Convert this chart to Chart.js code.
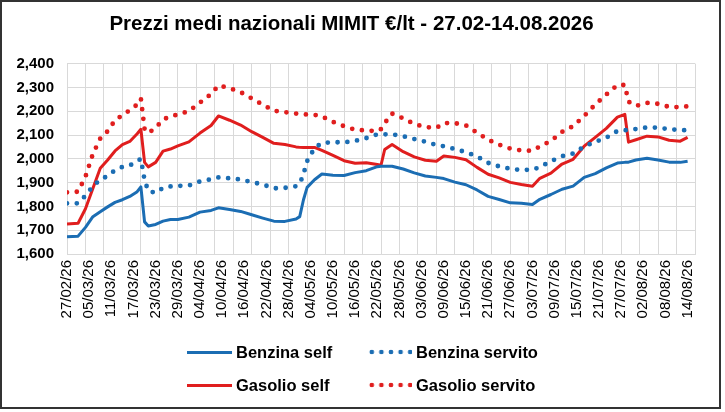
<!DOCTYPE html>
<html lang="it">
<head>
  <meta charset="UTF-8">
  <title>Prezzi medi nazionali MIMIT</title>
  <script src="https://cdn.jsdelivr.net/npm/chart.js"></script>
  <style>
    body { margin: 0; background: #fff; font-family: "Liberation Sans", Arial, sans-serif; }
    #box { position: absolute; left: 0; top: 0; width: 721px; height: 409px; border: 2px solid #333; box-sizing: border-box; background: #fff; }
    #wrap { position: absolute; left: 0; top: 0; width: 717px; height: 405px; }
    .leg { position: absolute; display: flex; align-items: center; font-weight: bold; font-size: 16.5px; color: #000; white-space: nowrap; }
    .leg .smp { width: 45px; margin-right: 4px; }
  </style>
</head>
<body>
  <div id="box">
    <div id="wrap"><canvas id="grafico"></canvas></div>
  </div>

  <script>
    // giorni dal 27/02/26 (0) al 14/08/26 (168)
    const giorni = [0, 3, 5, 7, 9, 11, 13, 15, 17, 19,
      20, 21, 22, 24, 26, 28, 30, 33, 36, 39,
      41, 44, 47, 50, 53, 56, 59, 62, 63, 64,
      65, 67, 69, 72, 75, 78, 81, 84, 85, 86,
      88, 91, 94, 97, 100, 102, 105, 108, 111, 114,
      117, 120, 123, 126, 128, 131, 134, 137, 140, 143,
      146, 149, 151, 152, 154, 157, 160, 163, 166, 168];

    const benzinaSelf = [1672, 1675, 1712, 1757, 1778, 1798, 1817, 1828, 1842, 1862,
      1882, 1735, 1718, 1724, 1738, 1745, 1745, 1755, 1776, 1783,
      1794, 1787, 1779, 1765, 1751, 1738, 1737, 1747, 1757, 1827,
      1880, 1912, 1936, 1931, 1930, 1942, 1950, 1967, 1969, 1969,
      1969, 1957, 1941, 1928, 1922, 1917, 1902, 1891, 1869, 1842,
      1829, 1815, 1813, 1808, 1830, 1850, 1872, 1885, 1922, 1938,
      1962, 1982, 1985, 1986, 1995, 2002, 1995, 1986, 1985, 1990];

    const benzinaServito = [1813, 1813, 1845, 1885, 1912, 1928, 1952, 1966, 1972, 1990,
      2000, 1910, 1865, 1857, 1878, 1884, 1886, 1888, 1905, 1914,
      1922, 1918, 1913, 1902, 1892, 1876, 1878, 1885, 1895, 1935,
      1990, 2045, 2066, 2070, 2069, 2075, 2087, 2103, 2103, 2103,
      2103, 2095, 2083, 2072, 2058, 2053, 2041, 2028, 2010, 1983,
      1968, 1958, 1953, 1954, 1965, 1990, 2011, 2022, 2052, 2071,
      2089, 2117, 2120, 2121, 2125, 2132, 2131, 2124, 2121, 2120];

    const gasolioSelf = [1726, 1729, 1790, 1875, 1960, 1995, 2033, 2060, 2073, 2105,
      2124, 1985, 1966, 1985, 2032, 2041, 2054, 2071, 2108, 2140,
      2180, 2162, 2142, 2114, 2090, 2065, 2060, 2050, 2048, 2047,
      2047, 2048, 2035, 2014, 1992, 1981, 1983, 1976, 1973, 2039,
      2060, 2030, 2008, 1994, 1990, 2012, 2006, 1996, 1964, 1935,
      1920, 1901, 1892, 1885, 1918, 1940, 1978, 1998, 2053, 2090,
      2128, 2175, 2187, 2070, 2080, 2095, 2092, 2078, 2074, 2090];

    const gasolioServito = [1859, 1862, 1925, 2020, 2085, 2116, 2162, 2183, 2204, 2228,
      2253, 2125, 2108, 2130, 2165, 2178, 2186, 2200, 2236, 2272,
      2308, 2297, 2280, 2254, 2227, 2202, 2196, 2190, 2188, 2187,
      2186, 2185, 2178, 2155, 2137, 2122, 2119, 2116, 2125, 2150,
      2190, 2170, 2146, 2133, 2130, 2150, 2150, 2140, 2110, 2080,
      2059, 2043, 2035, 2034, 2052, 2075, 2113, 2137, 2180, 2228,
      2270, 2310, 2310, 2240, 2222, 2235, 2231, 2218, 2217, 2221];

    // etichette asse x, una ogni 6 giorni
    const etichette = ['27/02/26', '05/03/26', '11/03/26', '17/03/26', '23/03/26', '29/03/26',
      '04/04/26', '10/04/26', '16/04/26', '22/04/26', '28/04/26', '04/05/26', '10/05/26',
      '16/05/26', '22/05/26', '28/05/26', '03/06/26', '09/06/26', '15/06/26', '21/06/26',
      '27/06/26', '03/07/26', '09/07/26', '15/07/26', '21/07/26', '27/07/26', '02/08/26',
      '08/08/26', '14/08/26'];

    const nomi = ['Benzina self', 'Benzina servito', 'Gasolio self', 'Gasolio servito'];
    const valori = [benzinaSelf, benzinaServito, gasolioSelf, gasolioServito];
    const colori = ['#1b6db3', '#1b6db3', '#e01e1e', '#e01e1e'];
    const puntinato = [false, true, false, true];

    const datasets = nomi.map((nome, i) => ({
      label: nome,
      data: giorni.map((g, j) => ({ x: g, y: valori[i][j] })),
      borderColor: colori[i],
      backgroundColor: colori[i],
      borderWidth: puntinato[i] ? 4.8 : 3,
      borderDash: puntinato[i] ? [0, 9.8] : [],
      borderCapStyle: puntinato[i] ? 'round' : 'butt',
      borderJoinStyle: 'round',
      pointRadius: 0,
      tension: 0,
      fill: false
    }));

    const griglia = '#d9d9d9';

    new Chart(document.getElementById('grafico'), {
      type: 'line',
      data: { datasets },
      options: {
        responsive: true,
        maintainAspectRatio: false,
        animation: false,
        layout: { padding: { left: 0, right: 18, top: 0, bottom: 0 } },
        plugins: {
          legend: { display: false },
          tooltip: { enabled: false },
          title: {
            display: true,
            text: 'Prezzi medi nazionali MIMIT €/lt - 27.02-14.08.2026',
            color: '#000',
            font: { family: '"Liberation Sans", Arial, sans-serif', size: 20.5, weight: 'bold' },
            padding: { top: 10, bottom: 27 }
          }
        },
        scales: {
          x: {
            type: 'linear',
            min: 0,
            max: 170,
            afterBuildTicks: scale => {
              const t = [];
              for (let v = 0; v <= 170; v++) {
                if (v % 5 === 0 || v % 6 === 0) t.push({ value: v });
              }
              scale.ticks = t;
            },
            afterFit: scale => { scale.height = 153; },
            grid: {
              drawTicks: false,
              color: ctx => (ctx.tick && ctx.tick.value % 5 === 0) ? griglia : 'rgba(0,0,0,0)',
              lineWidth: 1
            },
            border: { color: griglia },
            ticks: {
              autoSkip: false,
              minRotation: 90,
              maxRotation: 90,
              padding: 6,
              color: '#000',
              font: { family: '"Liberation Sans", Arial, sans-serif', size: 15 },
              callback: v => (v % 6 === 0 && v <= 168) ? etichette[v / 6] : ''
            }
          },
          y: {
            min: 1600,
            max: 2400,
            afterFit: scale => { scale.width = 65; },
            grid: { drawTicks: false, color: griglia },
            border: { color: griglia },
            ticks: {
              stepSize: 100,
              padding: 13,
              color: '#000',
              font: { family: '"Liberation Sans", Arial, sans-serif', size: 15, weight: 'bold' },
              callback: v => v.toLocaleString('en-US')
            }
          }
        }
      }
    });

    // legenda 2x2 come nell'originale
    const posLeg = [[185, 350], [365, 350], [185, 383], [365, 383]];
    nomi.forEach((nome, i) => {
      const d = document.createElement('div');
      d.className = 'leg';
      d.style.left = posLeg[i][0] + 'px';
      d.style.top = (posLeg[i][1] - 12) + 'px';
      d.style.height = '24px';
      const s = document.createElement('span');
      s.className = 'smp';
      if (puntinato[i]) {
        s.style.height = '6px';
        s.style.background = `radial-gradient(circle, ${colori[i]} 2px, rgba(0,0,0,0) 2.6px) 0 0 / 9.6px 6px repeat-x`;
      } else {
        s.style.height = '3px';
        s.style.background = colori[i];
      }
      d.appendChild(s);
      d.appendChild(document.createTextNode(nome));
      document.getElementById('box').appendChild(d);
    });
  </script>
</body>
</html>
